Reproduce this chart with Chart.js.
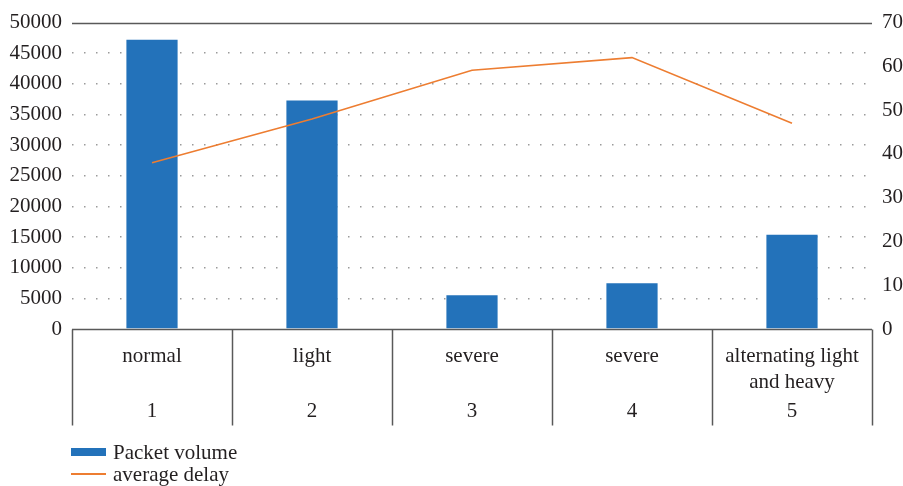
<!DOCTYPE html>
<html>
<head>
<meta charset="utf-8">
<script src="https://cdn.jsdelivr.net/npm/chart.js@4"></script>
<style>
  html, body { margin: 0; padding: 0; background: #fff; }
  #wrap { position: relative; width: 903px; height: 486px; }
  #legend { position: absolute; left: 71px; top: 441px; font-family: "Liberation Serif", serif; font-size: 21px; color: #231F20; }
  .item { display: flex; align-items: center; height: 22px; }
  .sw { width: 35px; margin-right: 7px; }
</style>
</head>
<body>
<div id="wrap">
  <canvas id="c" width="903" height="486"></canvas>
  <div id="legend">
    <div class="item"><div class="sw" style="height:8px;background:#2372BA"></div><span>Packet volume</span></div>
    <div class="item"><div class="sw" style="height:1.5px;background:#ED7D31"></div><span>average delay</span></div>
  </div>
</div>
<script>
const categories = ["normal", "light", "severe", "severe", "alternating light and heavy"];
const categoryLines = [["normal", ""], ["light", ""], ["severe", ""], ["severe", ""], ["alternating light", "and heavy"]];
const caseNumbers = ["1", "2", "3", "4", "5"];
const packetVolume = [47200, 37300, 5500, 7450, 15400];
const averageDelay = [38, 48, 59.1, 62, 47];
const leftTicks = [0, 5000, 10000, 15000, 20000, 25000, 30000, 35000, 40000, 45000, 50000];
const rightTicks = [0, 10, 20, 30, 40, 50, 60, 70];

const FONT = "Liberation Serif";
const TXT = "#231F20";
const AXIS = "#595959";

const tablePlugin = {
  id: "table",
  afterDraw(chart) {
    const ctx = chart.ctx;
    const x = chart.scales.x;
    const y = chart.scales.y;
    const area = chart.chartArea;
    const n = categories.length;
    const step = (x.right - x.left) / n;
    ctx.save();
    ctx.strokeStyle = AXIS;
    ctx.lineWidth = 1.5;
    const yTop = Math.round(y.getPixelForValue(50000)) + 0.5;
    ctx.beginPath();
    ctx.moveTo(area.left, yTop);
    ctx.lineTo(area.right, yTop);
    ctx.stroke();
    const y0 = Math.round(y.getPixelForValue(0)) + 0.5;
    ctx.beginPath();
    ctx.moveTo(area.left, y0);
    ctx.lineTo(area.right, y0);
    ctx.stroke();
    for (let i = 0; i <= n; i++) {
      const px = Math.round(x.left + i * step) + 0.5;
      ctx.beginPath();
      ctx.moveTo(px, y0);
      ctx.lineTo(px, y0 + 96);
      ctx.stroke();
    }
    ctx.fillStyle = TXT;
    ctx.font = "21px '" + FONT + "'";
    ctx.textAlign = "center";
    ctx.textBaseline = "middle";
    for (let i = 0; i < n; i++) {
      ctx.fillText(caseNumbers[i], x.getPixelForValue(i), y0 + 82);
    }
    ctx.restore();
  }
};

new Chart(document.getElementById("c"), {
  data: {
    labels: categoryLines,
    datasets: [
      {
        type: "line",
        label: "average delay",
        data: averageDelay,
        yAxisID: "y1",
        borderColor: "#ED7D31",
        borderWidth: 1.6,
        pointRadius: 0,
        tension: 0,
        fill: false
      },
      {
        type: "bar",
        label: "Packet volume",
        data: packetVolume,
        yAxisID: "y",
        backgroundColor: "#2372BA",
        borderWidth: 0,
        categoryPercentage: 1,
        barPercentage: 0.32
      }
    ]
  },
  options: {
    responsive: false,
    animation: false,
    layout: { padding: { top: 20, left: 0, right: 0, bottom: 0 } },
    plugins: { legend: { display: false }, tooltip: { enabled: false } },
    scales: {
      x: {
        type: "category",
        offset: true,
        grid: { display: false },
        border: { display: false },
        ticks: {
          font: { family: FONT, size: 21, lineHeight: 1.24 },
          color: TXT,
          padding: 6,
          maxRotation: 0,
          autoSkip: false
        },
        afterFit(s) { s.height = 157; }
      },
      y: {
        position: "left",
        min: 0, max: 50000,
        afterBuildTicks(s) { s.ticks = leftTicks.map(v => ({ value: v })); },
        grid: {
          drawTicks: false,
          color: (c) => (c.tick && (c.tick.value === 0 || c.tick.value === 50000)) ? "rgba(0,0,0,0)" : "#9a9a9a",
          lineWidth: 1.5
        },
        border: { display: false, dash: [1.5, 10.5] },
        ticks: {
          font: { family: FONT, size: 21 },
          color: TXT,
          padding: 10,
          callback: (v) => String(v)
        },
        afterFit(s) { s.width = 72; }
      },
      y1: {
        position: "right",
        min: 0, max: 70,
        afterBuildTicks(s) { s.ticks = rightTicks.map(v => ({ value: v })); },
        grid: { drawOnChartArea: false, drawTicks: false },
        border: { display: false },
        ticks: {
          font: { family: FONT, size: 21 },
          color: TXT,
          padding: 10,
          callback: (v) => String(v)
        },
        afterFit(s) { s.width = 31; }
      }
    }
  },
  plugins: [tablePlugin]
});
</script>
</body>
</html>
